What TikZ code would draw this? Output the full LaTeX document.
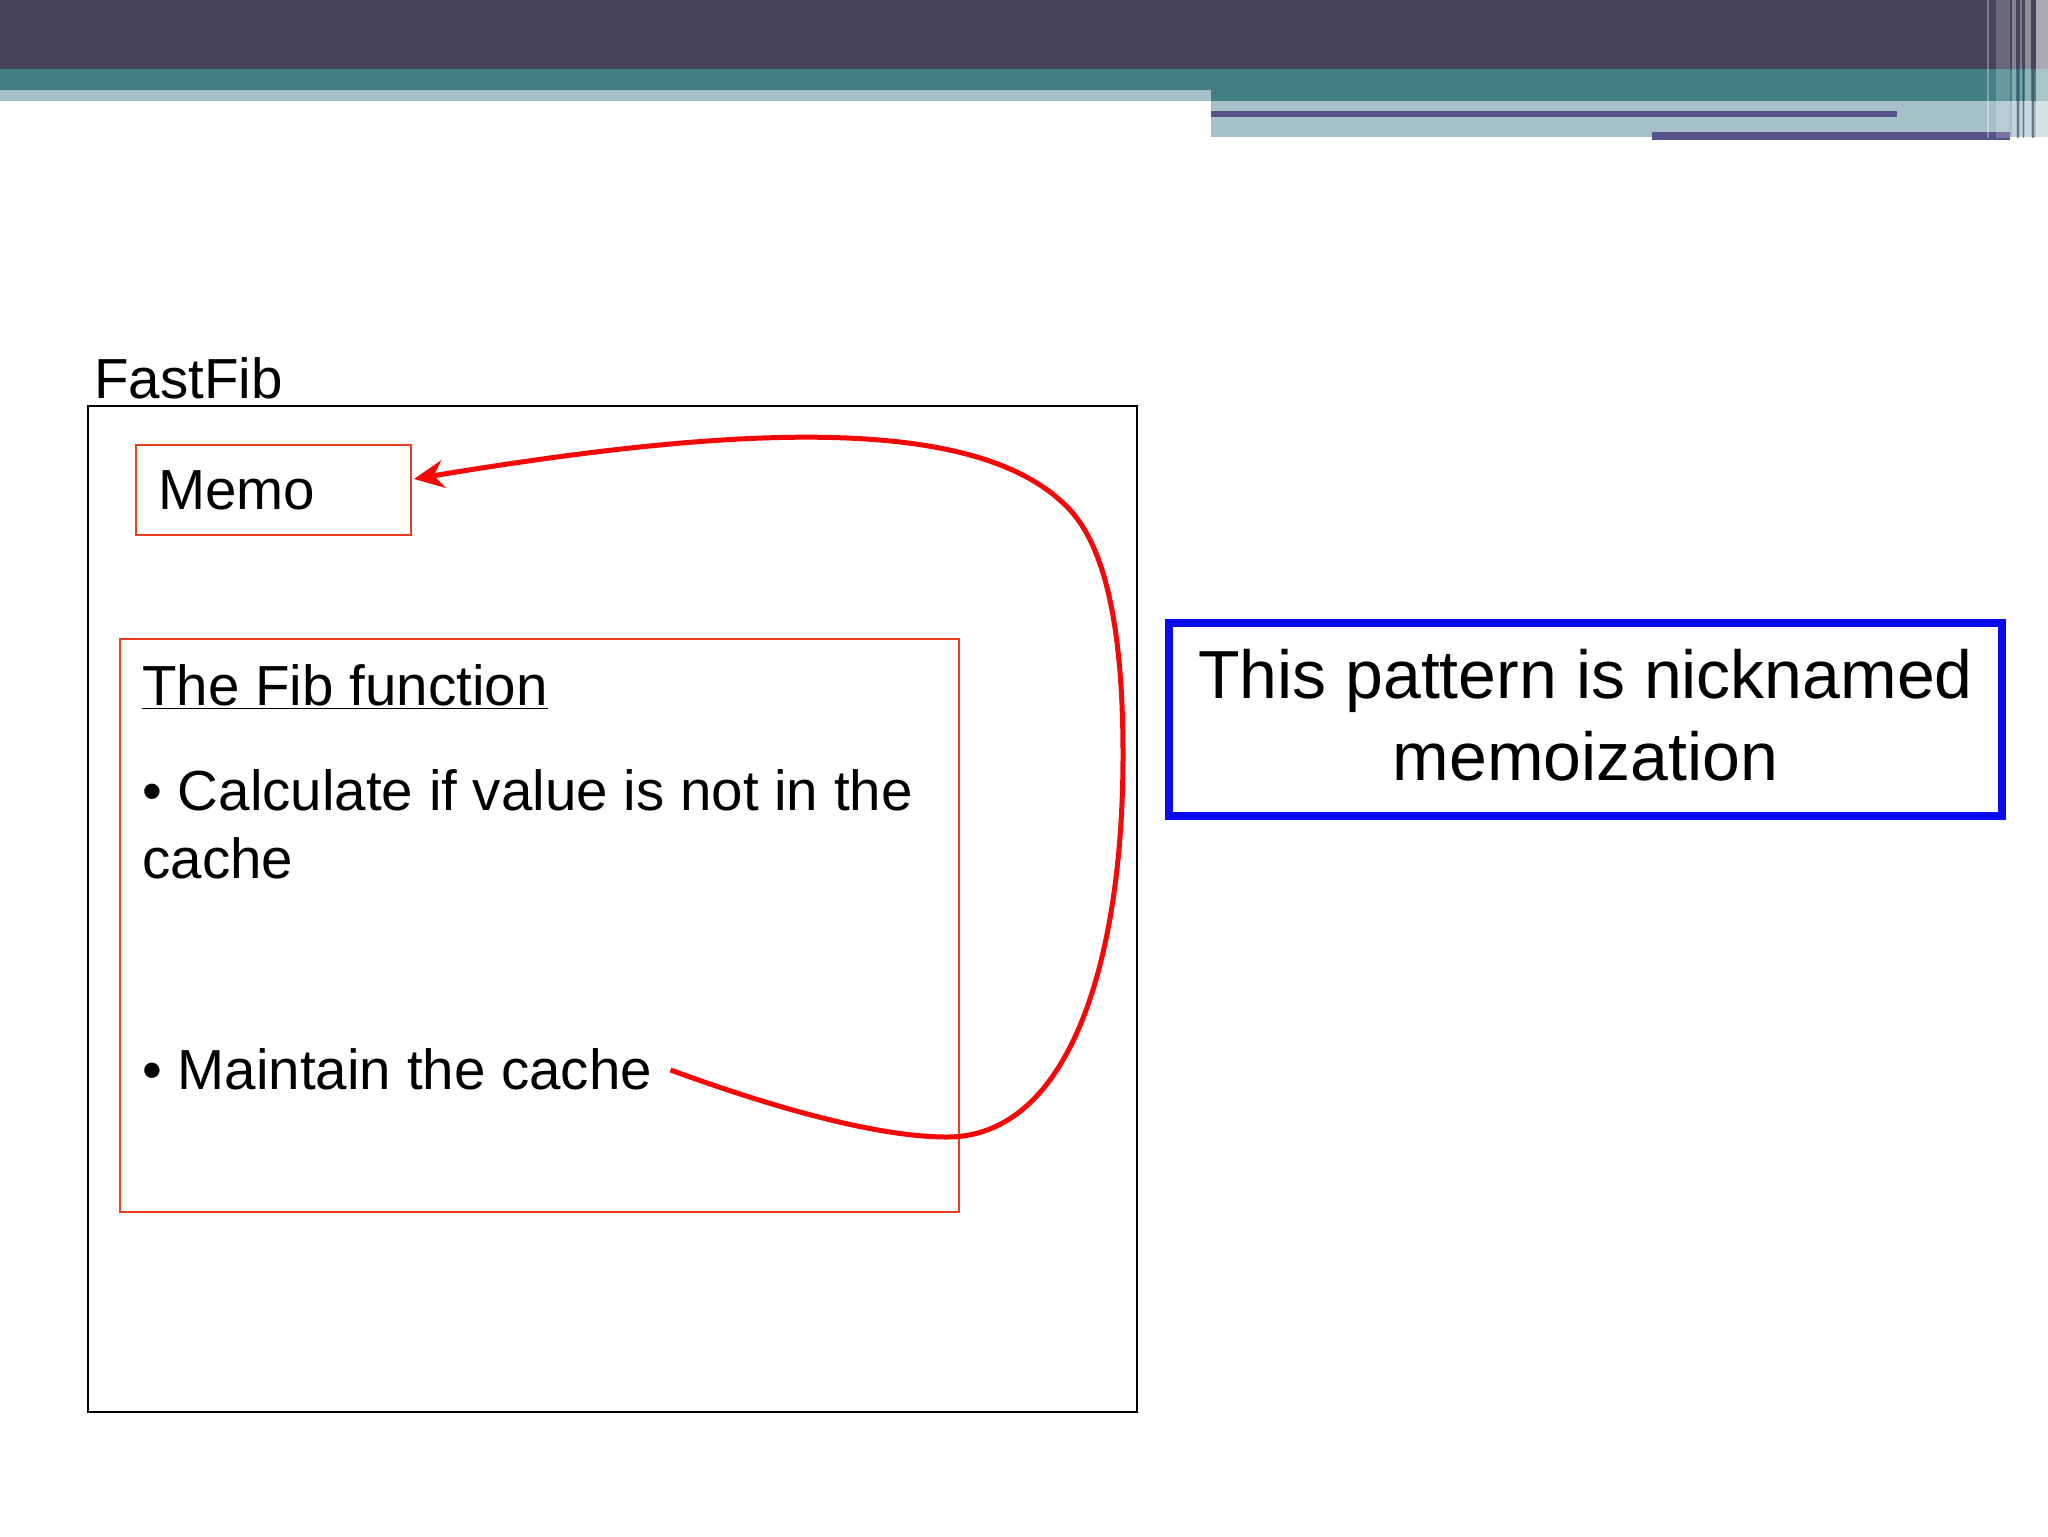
\documentclass[tikz,border=0pt]{standalone}
\usepackage{fontspec}
\setmainfont{Liberation Sans}
\usetikzlibrary{arrows.meta,calc}
\definecolor{bandDark}{HTML}{454459}
\definecolor{bandTeal}{HTML}{447F86}
\definecolor{bandLight}{HTML}{A5C0C7}
\definecolor{bandPurple}{HTML}{545289}
\definecolor{boxRed}{HTML}{E8401E}
\definecolor{curveRed}{HTML}{F50808}
\definecolor{noteBlue}{HTML}{0A0AF0}
\begin{document}
\begin{tikzpicture}[x=0.5pt,y=-0.5pt,
  txt/.style={inner sep=0pt, anchor=base west, font=\fontsize{28.25}{33.9}\selectfont},
  redbox/.style={draw=boxRed, line width=1pt, inner sep=0pt},
  stripe/.style={fill=white, opacity=#1},
  darkstripe/.style={fill=bandDark, opacity=#1}]
\useasboundingbox (0,0) rectangle (2048,1536);
\fill[white] (0,0) rectangle (2048,1536);
% banner
\fill[bandDark] (0,0) rectangle (2048,69);
\fill[bandTeal] (0,69) rectangle (2048,101);
\fill[bandLight] (0,90) rectangle (1211,101);
\fill[bandLight] (1211,101) rectangle (2048,137);
\fill[bandPurple] (1211,111) rectangle (1897,117);
\fill[bandPurple] (1652,132) rectangle (2010,140);
\fill[stripe=0.3] (1987,0) rectangle (1989,138);
\fill[stripe=0.2] (1996,0) rectangle (2010,138);
\fill[stripe=0.35] (2012,0) rectangle (2016,138);
\fill[darkstripe=0.6] (2017,0) rectangle (2019,138);
\fill[stripe=0.3] (2020,0) rectangle (2022,138);
\fill[darkstripe=0.6] (2023,0) rectangle (2024,138);
\fill[stripe=0.4] (2025,0) rectangle (2031,138);
\fill[darkstripe=0.6] (2032,0) rectangle (2034,138);
\fill[stripe=0.55] (2036,0) rectangle (2048,138);
% outer box
\node[draw=black, line width=1pt, inner sep=0pt, minimum width=524.5pt, minimum height=503pt] (outer) at (612,909) {};
\node[txt] (fastfib) at (94,398) {FastFib};
% memo
\node[redbox, minimum width=137.5pt, minimum height=45pt, text width=115.5pt, inner xsep=11pt, align=left, font=\fontsize{28.25}{33.9}\selectfont] (memo) at (273.5,490) {Memo};
% fib box
\node[redbox, minimum width=419.5pt, minimum height=286.5pt] (fibbox) at (539.5,925.5) {};
\node[txt] (fibtitle) at (142,705) {\underline{The Fib function}};
\node[txt] (calc1) at (142,810) {• Calculate if value is not in the};
\node[txt] (calc2) at (142,878) {cache};
\node[txt] (maint) at (142,1089) {• Maintain the cache};
% note
\node[draw=noteBlue, line width=4pt, minimum width=416.5pt, minimum height=96.5pt, align=center, font=\fontsize{34}{41}\selectfont, inner sep=0pt] (note) at (1585.5,719.5) {This pattern is nicknamed\\memoization\rule[-4.5pt]{0pt}{4.5pt}};
% curve
\coordinate (cstart) at ($(maint.base east)+(18,-19)$);
\coordinate (ctip) at ($(memo.east)+(2,-11)$);
\draw[curveRed, line width=2.5pt, -{Stealth[length=15pt,width=14pt,inset=5pt]}]
  (cstart) .. controls (780,1110) and (880,1137) .. (947,1137)
  .. controls (1070,1137) and (1123,960) .. (1123,755)
  .. controls (1123,610) and (1100,535) .. (1062,502)
  .. controls (965,412) and (720,428) .. (ctip);
\end{tikzpicture}
\end{document}
